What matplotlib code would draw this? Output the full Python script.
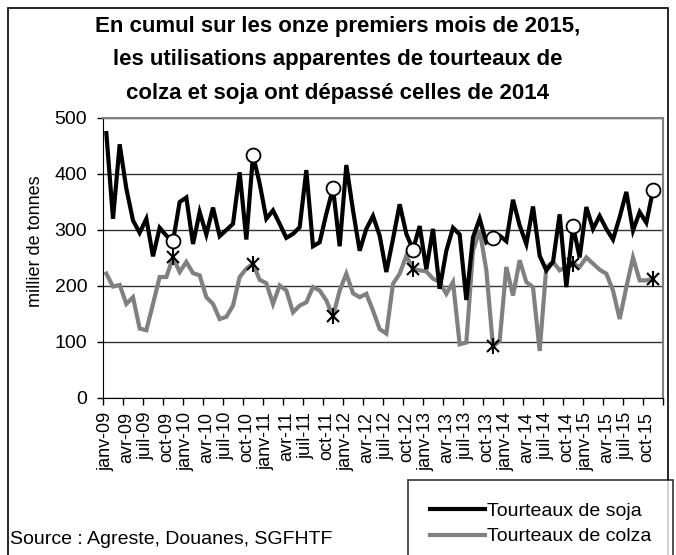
import numpy as np
import matplotlib
matplotlib.use("Agg")
from matplotlib import pyplot as plt
from matplotlib.patches import Rectangle

plt.rcParams['font.family'] = ['Liberation Sans', 'DejaVu Sans']

# monthly apparent use, thousand tonnes, janv-09 .. nov-15
soja = [473, 320, 453, 374, 317, 295, 320, 253, 304, 290,
        280, 350, 358, 275, 332, 292, 340, 289, 300, 311,
        403, 283, 434, 383, 320, 335, 311, 286, 293, 305,
        407, 271, 278, 329, 375, 271, 416, 335, 263, 302,
        325, 290, 225, 284, 346, 293, 265, 307, 230, 302,
        195, 263, 304, 292, 175, 287, 320, 278, 286, 290,
        280, 354, 308, 275, 342, 254, 228, 243, 328, 198,
        307, 251, 341, 302, 325, 302, 283, 323, 368, 299,
        332, 313, 371]
colza = [222, 199, 202, 168, 180, 124, 121, 168, 216, 216,
         251, 225, 243, 223, 219, 180, 168, 141, 145, 165,
         216, 231, 240, 211, 205, 168, 201, 192, 153, 165,
         171, 198, 192, 174, 146, 192, 222, 187, 180, 186,
         156, 123, 115, 204, 222, 254, 230, 228, 226, 213,
         207, 186, 207, 96, 99, 263, 300, 228, 92, 102,
         234, 183, 246, 207, 198, 84, 234, 243, 228, 234,
         240, 234, 251, 240, 229, 222, 192, 141, 198, 251,
         210, 210, 213]
# november of each year is highlighted
nov_idx = [10, 22, 34, 46, 58, 70, 82]
mois = ["janv", "avr", "juil", "oct"]
tick_labels = [f"{m}-{a:02d}" for a in range(9, 16) for m in mois]

soja = np.array(soja)
colza = np.array(colza)
x = np.arange(len(soja))

fig = plt.figure(figsize=(6.76, 5.55), dpi=100)
W, H = 676, 555
ax = fig.add_axes([103 / W, 1 - 398 / H, 560 / W, 280 / H])

ax.plot(x, soja, color="black", lw=3, solid_joinstyle="miter", zorder=3,
        label="Tourteaux de soja")
ax.plot(x, colza, color="#808080", lw=3, solid_joinstyle="miter", zorder=2,
        label="Tourteaux de colza")
ax.plot(x[nov_idx], soja[nov_idx], "o", ms=10, mfc="white", mec="black",
        mew=1.3, zorder=4)
ax.plot(x[nov_idx], colza[nov_idx], "x", ms=9, mec="black", mew=1.5, zorder=4)
ax.plot(x[nov_idx], colza[nov_idx], "|", ms=11, mec="black", mew=1.5, zorder=4)

ax.set_xlim(-0.5, 83.5)
ax.set_ylim(0, 500)
ax.set_yticks(range(0, 501, 100))
ax.yaxis.grid(True, color="#333333", lw=1)
ax.set_axisbelow(True)

ax.set_xticks(np.arange(0, 84, 3))
ax.set_xticklabels(tick_labels, rotation=90, fontsize=13)
ax.set_xticks(np.arange(-0.5, 84, 3), minor=True)
ax.tick_params(axis="x", which="major", length=0, pad=10)
ax.tick_params(axis="x", which="minor", length=5, width=1, direction="out")
ax.tick_params(axis="y", length=4.3, width=1, labelsize=14, pad=7)

for s in ["top", "right"]:
    ax.spines[s].set_color("#808080")
    ax.spines[s].set_linewidth(1.5)
ax.spines["left"].set_color("black")
ax.spines["bottom"].set_color("black")

fig.text(35 / W, 1 - 241 / H, "millier de tonnes", rotation=90,
         ha="center", va="center", fontsize=13)

fig.text(338 / W, 1 - 60 / H,
         "En cumul sur les onze premiers mois de 2015,\n"
         "les utilisations apparentes de tourteaux de\n"
         "colza et soja ont dépassé celles de 2014",
         ha="center", va="center", fontsize=16, fontweight="bold",
         linespacing=1.8)

fig.text(10 / W, 1 - 540 / H, "Source : Agreste, Douanes, SGFHTF",
         fontsize=14, va="center")

leg = fig.legend(loc="upper left", bbox_to_anchor=(408 / W, 1 - 480 / H),
                 fontsize=14, frameon=True, fancybox=False, handlelength=2.8,
                 handletextpad=0.1, borderpad=1.15, labelspacing=0.4,
                 borderaxespad=0)
leg.get_frame().set_edgecolor("black")
leg.get_frame().set_linewidth(1.2)

# outer chart border
fig.patches.append(Rectangle((8 / W, -0.01), 660 / W, 1 - 8 / H + 0.01,
                             transform=fig.transFigure, fill=False,
                             edgecolor="black", lw=1.2))

fig.savefig("out.png", dpi=100)
